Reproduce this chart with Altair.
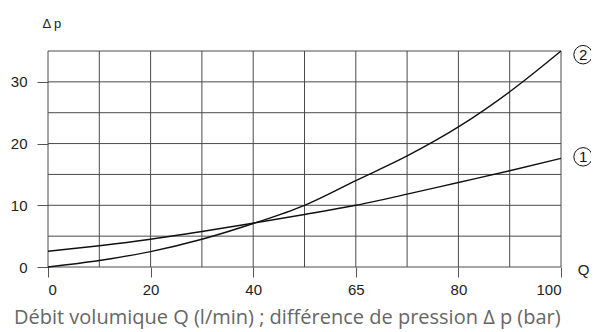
import altair as alt
import pandas as pd

# ---- data ----
q_values = [0, 10, 20, 30, 40, 50, 60, 70, 80, 90, 100]
curve1 = [2.55, 3.45, 4.5, 5.75, 7.1, 8.5, 10.0, 11.8, 13.7, 15.6, 17.6]
curve2 = [0.0, 1.05, 2.5, 4.5, 7.05, 10.0, 14.0, 18.0, 22.7, 28.4, 35.0]
series_names = ["1", "2"]

x_tick_values = [0, 20, 40, 60, 80, 100]
x_tick_labels = ["0", "20", "40", "65", "80", "100"]
y_tick_values = [0, 10, 20, 30]
grid_x = [0, 10, 20, 30, 40, 50, 60, 70, 80, 90, 100]
grid_y = [0, 5, 10, 15, 20, 25, 30, 35]

label_names = ["2", "1"]
label_q = [104.3, 104.3]
label_p = [34.4, 17.85]

title_text = "Débit volumique Q (l/min) ; différence de pression \u0394 p (bar)"

# ---- tables ----
rows = []
for name, vals in zip(series_names, [curve1, curve2]):
    for q, v in zip(q_values, vals):
        rows.append({"Q": q, "dp": v, "series": name})
curves = pd.DataFrame(rows)

vgrid = pd.DataFrame({"x": grid_x, "y0": [grid_y[0]] * len(grid_x), "y1": [grid_y[-1]] * len(grid_x)})
hgrid = pd.DataFrame({"y": grid_y, "x0": [grid_x[0]] * len(grid_y), "x1": [grid_x[-1]] * len(grid_y)})
labels = pd.DataFrame({"name": label_names, "Q": label_q, "dp": label_p})

label_expr = "{" + ",".join(f"'{v}':'{t}'" for v, t in zip(x_tick_values, x_tick_labels)) + "}[datum.value]"

xscale = alt.Scale(domain=[0, 100], nice=False, zero=False)
yscale = alt.Scale(domain=[0, 35], nice=False, zero=False)

lab_font = "Liberation Sans, Arial, Helvetica, sans-serif"

x_axis = alt.Axis(values=x_tick_values, labelExpr=label_expr, grid=False, domain=False,
                  tickSize=10, tickColor="#555", labelPadding=5, labelFontSize=15,
                  labelFont=lab_font, labelColor="#222",
                  title="Q", titleAngle=0, titleX=535, titleY=2, titleBaseline="middle",
                  titleAlign="center", titleFontWeight="normal", titleFontSize=15,
                  titleFont=lab_font, titleColor="#222")
y_axis = alt.Axis(values=y_tick_values, grid=False, domain=False,
                  tickSize=11, tickColor="#555", labelPadding=10, labelFontSize=15,
                  labelFont=lab_font, labelColor="#222",
                  title="\u0394 p", titleAngle=0, titleX=-6, titleY=-28, titleBaseline="middle",
                  titleAlign="left", titleFontWeight="normal", titleFontSize=13,
                  titleFont=lab_font, titleColor="#222")

vrules = alt.Chart(vgrid).mark_rule(color="#4a4a4a", strokeWidth=1).encode(
    x=alt.X("x:Q", scale=xscale, axis=x_axis),
    y=alt.Y("y0:Q", scale=yscale, axis=y_axis),
    y2="y1:Q",
)
hrules = alt.Chart(hgrid).mark_rule(color="#4a4a4a", strokeWidth=1).encode(
    y=alt.Y("y:Q", scale=yscale),
    x=alt.X("x0:Q", scale=xscale),
    x2="x1:Q",
)
lines = alt.Chart(curves).mark_line(interpolate="monotone", strokeWidth=1.4).encode(
    x=alt.X("Q:Q", scale=xscale),
    y=alt.Y("dp:Q", scale=yscale),
    color=alt.Color("series:N", scale=alt.Scale(domain=series_names, range=["#111", "#111"]), legend=None),
    detail="series:N",
)
circles = alt.Chart(labels).mark_point(shape="circle", size=340, filled=False, color="#111",
                                        strokeWidth=1, opacity=1).encode(
    x=alt.X("Q:Q", scale=xscale),
    y=alt.Y("dp:Q", scale=yscale),
)
texts = alt.Chart(labels).mark_text(fontSize=15, font=lab_font, color="#111",
                                    align="center", baseline="middle", dy=0.5).encode(
    x=alt.X("Q:Q", scale=xscale),
    y=alt.Y("dp:Q", scale=yscale),
    text="name:N",
)

chart = alt.layer(vrules, hrules, lines, circles, texts).properties(
    width=513,
    height=216,
    padding={"left": 40, "top": 43, "right": 30, "bottom": 64},
    autosize=alt.AutoSizeParams(type="none"),
    title=alt.TitleParams(text=title_text, orient="bottom", anchor="start", frame="group",
                          dx=-34, offset=11, fontSize=20, font="Open Sans",
                          fontWeight="normal", color="#666"),
).configure_view(stroke=None)

chart.save("out.html", embed_options={"renderer": "svg", "actions": False})
